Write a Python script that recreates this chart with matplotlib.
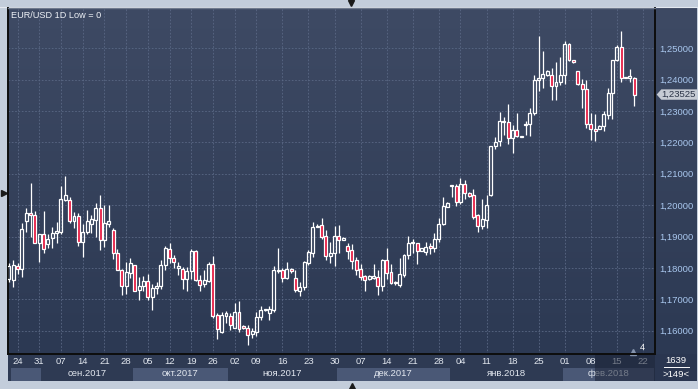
import numpy as np
import matplotlib
matplotlib.use('Agg')
import matplotlib.pyplot as plt
from matplotlib.colors import LinearSegmentedColormap
from matplotlib.patches import Polygon
from matplotlib.lines import Line2D
import matplotlib.transforms as mtransforms

plt.rcParams['font.family'] = ['Liberation Sans', 'DejaVu Sans']

# ------------------
# data: EUR/USD daily bars, first bar = 22 Aug 2017
# ------------------
opens = [1.1765, 1.1762, 1.1806, 1.1798, 1.1949, 1.1976, 1.1970, 1.1880, 1.1909, 1.1877,
         1.1895, 1.1912, 1.1914, 1.2018, 1.2017, 1.1949, 1.1967, 1.1882, 1.1914, 1.1939,
         1.1954, 1.1992, 1.1890, 1.1939, 1.1922, 1.1848, 1.1792, 1.1744, 1.1784, 1.1810,
         1.1731, 1.1742, 1.1760, 1.1707, 1.1737, 1.1741, 1.1810, 1.1861, 1.1831, 1.1799,
         1.1796, 1.1765, 1.1789, 1.1854, 1.1762, 1.1749, 1.1759, 1.1812, 1.1651, 1.1595,
         1.1647, 1.1648, 1.1610, 1.1659, 1.1616, 1.1608, 1.1589, 1.1595, 1.1643, 1.1665,
         1.1656, 1.1665, 1.1789, 1.1793, 1.1769, 1.1796, 1.1769, 1.1727, 1.1738, 1.1817,
         1.1847, 1.1929, 1.1936, 1.1901, 1.1838, 1.1849, 1.1901, 1.1890, 1.1869, 1.1856,
         1.1824, 1.1796, 1.1774, 1.1764, 1.1768, 1.1771, 1.1743, 1.1824, 1.1787, 1.1751,
         1.1745, 1.1777, 1.1840, 1.1878, 1.1878, 1.1854, 1.1851, 1.1869, 1.1862, 1.1893,
         1.1941, 1.1994, 1.2065, 1.2060, 1.2010, 1.2069, 1.2040, 1.2031, 1.1968, 1.1934,
         1.1954, 1.2032, 1.2187, 1.2203, 1.2264, 1.2264, 1.2213, 1.2239, 1.2217, 1.2255,
         1.2258, 1.2293, 1.2399, 1.2405, 1.2415, 1.2415, 1.2381, 1.2392, 1.2415, 1.2513,
         1.2463, 1.2429, 1.2385, 1.2369, 1.2258, 1.2242, 1.2243, 1.2253, 1.2288, 1.2357,
         1.2463, 1.2503, 1.2405, 1.2405, 1.2405]
highs = [1.1815, 1.1824, 1.1817, 1.1943, 1.1992, 1.2070, 1.1983, 1.1909, 1.1980, 1.1909,
         1.1930, 1.1948, 1.2060, 1.2092, 1.2026, 1.1978, 1.1975, 1.1941, 1.1986, 1.1969,
         1.2007, 1.2034, 1.2001, 1.2001, 1.1927, 1.1861, 1.1796, 1.1819, 1.1833, 1.1810,
         1.1771, 1.1773, 1.1782, 1.1750, 1.1755, 1.1824, 1.1870, 1.1879, 1.1842, 1.1818,
         1.1804, 1.1804, 1.1861, 1.1857, 1.1778, 1.1794, 1.1820, 1.1838, 1.1656, 1.1659,
         1.1663, 1.1656, 1.1688, 1.1695, 1.1619, 1.1617, 1.1610, 1.1659, 1.1680, 1.1670,
         1.1680, 1.1805, 1.1863, 1.1799, 1.1820, 1.1799, 1.1794, 1.1755, 1.1823, 1.1858,
         1.1946, 1.1939, 1.1960, 1.1920, 1.1883, 1.1933, 1.1938, 1.1899, 1.1878, 1.1875,
         1.1835, 1.1814, 1.1777, 1.1776, 1.1812, 1.1793, 1.1828, 1.1862, 1.1812, 1.1758,
         1.1833, 1.1846, 1.1901, 1.1891, 1.1878, 1.1863, 1.1883, 1.1878, 1.1911, 1.1959,
         1.2026, 1.2009, 1.2065, 1.2069, 1.2088, 1.2081, 1.2041, 1.2053, 1.1973, 1.2019,
         1.2031, 1.2190, 1.2217, 1.2296, 1.2282, 1.2322, 1.2256, 1.2293, 1.2222, 1.2269,
         1.2309, 1.2415, 1.2539, 1.2492, 1.2431, 1.2438, 1.2455, 1.2473, 1.2523, 1.2516,
         1.2464, 1.2429, 1.2402, 1.2399, 1.2293, 1.2290, 1.2255, 1.2300, 1.2373, 1.2463,
         1.2511, 1.2555, 1.2409, 1.2434, 1.2410]
lows = [1.1755, 1.1739, 1.1782, 1.1771, 1.1914, 1.1898, 1.1880, 1.1819, 1.1847, 1.1864,
        1.1863, 1.1879, 1.1909, 1.2013, 1.1944, 1.1927, 1.1869, 1.1835, 1.1907, 1.1912,
        1.1900, 1.1858, 1.1866, 1.1932, 1.1829, 1.1792, 1.1715, 1.1718, 1.1769, 1.1726,
        1.1697, 1.1726, 1.1697, 1.1667, 1.1718, 1.1734, 1.1794, 1.1815, 1.1801, 1.1778,
        1.1733, 1.1727, 1.1765, 1.1759, 1.1725, 1.1739, 1.1755, 1.1640, 1.1574, 1.1593,
        1.1624, 1.1603, 1.1608, 1.1597, 1.1606, 1.1553, 1.1578, 1.1584, 1.1635, 1.1663,
        1.1635, 1.1661, 1.1783, 1.1755, 1.1765, 1.1785, 1.1723, 1.1712, 1.1730, 1.1810,
        1.1836, 1.1929, 1.1891, 1.1824, 1.1817, 1.1806, 1.1849, 1.1889, 1.1830, 1.1798,
        1.1777, 1.1761, 1.1727, 1.1763, 1.1766, 1.1713, 1.1727, 1.1766, 1.1750, 1.1747,
        1.1740, 1.1771, 1.1830, 1.1849, 1.1814, 1.1853, 1.1840, 1.1844, 1.1851, 1.1883,
        1.1936, 1.1993, 1.2026, 1.1998, 1.2005, 1.2021, 1.2027, 1.1955, 1.1913, 1.1923,
        1.1928, 1.2028, 1.2179, 1.2187, 1.2224, 1.2194, 1.2166, 1.2216, 1.2216, 1.2224,
        1.2222, 1.2288, 1.2364, 1.2373, 1.2413, 1.2335, 1.2335, 1.2383, 1.2385, 1.2458,
        1.2454, 1.2383, 1.2311, 1.2245, 1.2208, 1.2203, 1.2242, 1.2237, 1.2275, 1.2275,
        1.2460, 1.2394, 1.2404, 1.2392, 1.2317]
closes = [1.1805, 1.1808, 1.1798, 1.1925, 1.1976, 1.1969, 1.1880, 1.1909, 1.1861, 1.1893,
          1.1912, 1.1916, 1.2020, 1.2034, 1.1949, 1.1964, 1.1882, 1.1916, 1.1949, 1.1955,
          1.1992, 1.1890, 1.1943, 1.1950, 1.1848, 1.1792, 1.1744, 1.1787, 1.1817, 1.1728,
          1.1744, 1.1757, 1.1707, 1.1736, 1.1741, 1.1808, 1.1863, 1.1831, 1.1820, 1.1807,
          1.1765, 1.1791, 1.1854, 1.1762, 1.1746, 1.1762, 1.1812, 1.1648, 1.1606, 1.1651,
          1.1656, 1.1619, 1.1659, 1.1606, 1.1608, 1.1587, 1.1600, 1.1643, 1.1665, 1.1666,
          1.1670, 1.1793, 1.1793, 1.1769, 1.1796, 1.1789, 1.1729, 1.1740, 1.1818, 1.1852,
          1.1930, 1.1932, 1.1899, 1.1838, 1.1849, 1.1901, 1.1890, 1.1897, 1.1854, 1.1822,
          1.1793, 1.1771, 1.1763, 1.1774, 1.1771, 1.1743, 1.1824, 1.1785, 1.1752, 1.1753,
          1.1782, 1.1840, 1.1878, 1.1880, 1.1854, 1.1862, 1.1867, 1.1862, 1.1893, 1.1941,
          1.1996, 1.2007, 1.2060, 1.2010, 1.2069, 1.2040, 1.2028, 1.1962, 1.1934, 1.1957,
          1.2000, 1.2187, 1.2201, 1.2267, 1.2269, 1.2213, 1.2238, 1.2219, 1.2221, 1.2259,
          1.2293, 1.2399, 1.2405, 1.2417, 1.2426, 1.2381, 1.2392, 1.2415, 1.2513, 1.2463,
          1.2455, 1.2385, 1.2369, 1.2258, 1.2243, 1.2237, 1.2253, 1.2290, 1.2357, 1.2463,
          1.2503, 1.2405, 1.2407, 1.2413, 1.23525]

# weekly ticks (bar index of each Thursday) and their labels
week_idx = [2, 7, 12, 17, 22, 27, 32, 37, 42, 47, 52, 57, 63, 69, 75, 81, 87, 93, 99,
            104, 110, 116, 122, 128, 134, 140, 146]
week_labels = ['24', '31', '07', '14', '21', '28', '05', '12', '19', '26', '02', '09', '16',
               '23', '30', '07', '14', '21', '28', '04', '11', '18', '25', '01', '08', '15', '22']

# months: first and last bar index
month_names = ['', 'сен.2017', 'окт.2017', 'ноя.2017', 'дек.2017', 'янв.2018', 'фев.2018']
month_first = [1, 8, 29, 51, 76, 102, 128]
month_last = [7, 28, 50, 75, 101, 127, 148]

price_levels = [1.16, 1.17, 1.18, 1.19, 1.20, 1.21, 1.22, 1.23, 1.24, 1.25]
last_price = 1.23525
title = 'EUR/USD 1D Low = 0'

# ------------------
# layout helpers
# ------------------
W, H = 698, 389


def box(x0, y0, x1, y1):
    # pixel box (top-left origin) -> figure fraction
    return [x0 / W, 1 - y1 / H, (x1 - x0) / W, (y1 - y0) / H]


xlim = (-0.2, 148.8)
ylim = (1.15258, 1.26283)

fig = plt.figure(figsize=(6.98, 3.89), dpi=100, facecolor='#c3cddb')

bg = LinearSegmentedColormap.from_list('bg', ['#2c3953', '#3e4a64'])
grad = np.linspace(0, 1, 256).reshape(-1, 1)

ax_p = fig.add_axes(box(655, 8, 697, 354))
ax = fig.add_axes(box(8, 8, 655, 354))
ax_d = fig.add_axes(box(8, 354, 655, 381))
ax_c = fig.add_axes(box(655, 354, 697, 381))
ax.set_zorder(3)
ax_p.set_zorder(1)

# main area
ax.set_xlim(xlim)
ax.set_ylim(ylim)
ax.imshow(grad, cmap=bg, aspect='auto', origin='lower',
          extent=[xlim[0], xlim[1], ylim[0], ylim[1]], zorder=0)
ax.set_xlim(xlim)
ax.set_ylim(ylim)
ax.set_xticks(week_idx)
ax.set_yticks(price_levels)
ax.grid(True, color='#5a6885', ls=(0, (2, 2)), lw=0.6)
ax.yaxis.tick_right()
ax.tick_params(axis='x', length=0, labelbottom=False)
ax.tick_params(axis='y', length=0, pad=3, labelcolor='#a9c7ee', labelsize=6.8)
ax.yaxis.set_major_formatter(plt.FuncFormatter(lambda v, p: f'{v:.5f}'.replace('.', ',')))
for side in ['left', 'right', 'bottom']:
    ax.spines[side].set_color('#0d0d0d')
    ax.spines[side].set_linewidth(1.4)
ax.spines['top'].set_color('#6f7a8e')
ax.spines['top'].set_linewidth(1.0)

# candles
x = np.arange(len(opens))
o = np.array(opens)
c = np.array(closes)
hi = np.array(highs)
lo = np.array(lows)
up = c >= o
body_lo = np.minimum(o, c)
body_h = np.maximum(np.abs(c - o), 0.0005)
body_hi = body_lo + body_h
ax.vlines(x, lo, body_lo, color='white', lw=0.9, zorder=3)
ax.vlines(x, body_hi, hi, color='white', lw=0.9, zorder=3)
ax.bar(x[up], body_h[up], bottom=body_lo[up], width=0.68, facecolor='none',
       edgecolor='white', linewidth=0.9, zorder=4)
ax.bar(x[~up], body_h[~up], bottom=body_lo[~up], width=0.68, facecolor='#e5173f',
       edgecolor='white', linewidth=0.9, zorder=4)

ax.text(0.004, 0.99, title, transform=ax.transAxes, color='#eef1f6', fontsize=6.6,
        ha='left', va='top')
blend = mtransforms.blended_transform_factory(ax.transData, ax.transAxes)
ax.text(145.8, 0.0045, '4', transform=blend, color='white', fontsize=6.5,
        ha='center', va='bottom')
ax.plot([143.7], [0.006], marker='^', ms=4.5, color='#8594ad', transform=blend, clip_on=False)

# price panel
ax_p.set_ylim(ylim)
ax_p.imshow(grad, cmap=bg, aspect='auto', origin='lower', extent=[0, 1, ylim[0], ylim[1]])
ax_p.set_xlim(0, 1)
ax_p.set_ylim(ylim)
ax_p.set_xticks([])
ax_p.set_yticks([])
for s in ax_p.spines.values():
    s.set_visible(False)
dh = 5.2 / 3137.8
tag = Polygon([(0.04, last_price), (0.15, last_price + dh), (1.0, last_price + dh),
               (1.0, last_price - dh), (0.15, last_price - dh)], closed=True,
              facecolor='#c6cbd4', edgecolor='none', zorder=5)
ax_p.add_patch(tag)
ax_p.text(0.56, last_price, f'{last_price:.5f}'.replace('.', ','), color='#2a3346',
          fontsize=6.8, ha='center', va='center', zorder=6)

# date panel
ax_d.set_xlim(xlim)
ax_d.set_ylim(0, 1)
ax_d.set_facecolor('#2e3a53')
ax_d.set_xticks([])
ax_d.set_yticks([])
for s in ax_d.spines.values():
    s.set_visible(False)
for k, (name, a, b) in enumerate(zip(month_names, month_first, month_last)):
    if k % 2 == 0:
        ax_d.axvspan(a - 0.5, b + 0.5, ymin=0.01, ymax=0.47, color='#4a5876', lw=0)
    if name:
        mid = (max(a, xlim[0]) + min(b, xlim[1])) / 2
        ax_d.text(mid, 0.27, name, color='#e2e7ef', fontsize=6.8, ha='center', va='center')
for i, lab in zip(week_idx, week_labels):
    ax_d.text(i, 0.72, lab, color='#e2e7ef', fontsize=6.8, ha='center', va='center')
ax_d.axvspan(135.0, xlim[1], color='#1b2336', alpha=0.55, lw=0, zorder=5)

# corner box
ax_c.set_facecolor('#2a3650')
ax_c.set_xticks([])
ax_c.set_yticks([])
ax_c.set_xlim(0, 1)
ax_c.set_ylim(0, 1)
for s in ax_c.spines.values():
    s.set_visible(False)
ax_c.text(0.5, 0.76, '1639', color='white', fontsize=6.8, ha='center', va='center')
ax_c.text(0.5, 0.24, '>149<', color='white', fontsize=6.8, ha='center', va='center')
ax_c.plot([0.22, 0.82], [0.52, 0.52], color='white', lw=0.7)

# window scroll markers
for px, py, m in [(351, 3, 'v'), (352, 386, '^'), (3.5, 193, '>')]:
    fig.add_artist(Line2D([px / W], [1 - py / H], marker=m, ms=4.5, color='#1a1a1a',
                          transform=fig.transFigure))
fig.add_artist(Line2D([0, 1], [1 - 6.5 / H, 1 - 6.5 / H], color='#e4e9f0', lw=0.8,
                      transform=fig.transFigure))

fig.savefig('out.png', dpi=100, facecolor=fig.get_facecolor())
